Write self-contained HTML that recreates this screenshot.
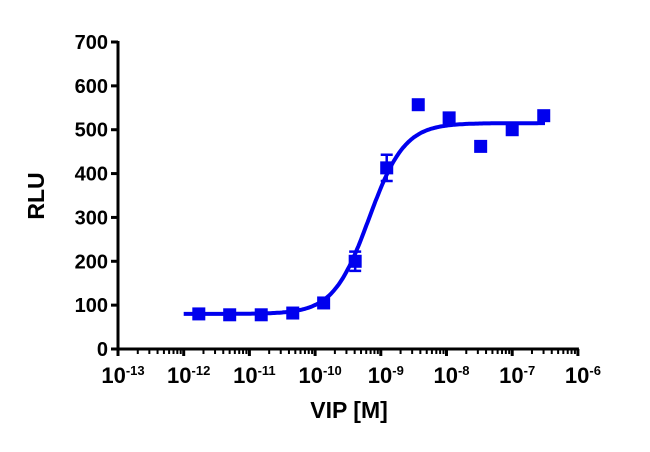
<!DOCTYPE html>
<html><head><meta charset="utf-8"><style>
body{margin:0;background:#fff;}
svg text{font-family:"Liberation Sans",Arial,sans-serif;font-weight:bold;fill:#000;}
</style></head><body>
<svg id="c" width="650" height="447" viewBox="0 0 650 447"></svg>
<script>
const logDoses=[-11.77,-11.30,-10.82,-10.34,-9.87,-9.39,-8.91,-8.43,-7.96,-7.48,-7.00,-6.52];
const rluValues=[80,78,78,82,105,200,413,557,527,462,500,532];
const rluErrors=[0,0,0,0,0,22,30,0,0,0,0,0];
const yTicks=[0,100,200,300,400,500,600,700];
const xTickExps=[-13,-12,-11,-10,-9,-8,-7,-6];
const fitBottom=80, fitTop=515, fitLogEC50=-9.18, fitHill=1.6;

const NS="http://www.w3.org/2000/svg";
const svg=document.getElementById('c');
const X0=118, DEC=65.7, Y0=349, YS=307/700;
const xs=l=>X0+(l+13)*DEC, ys=v=>Y0-v*YS;
function mk(t,a,p){const e=document.createElementNS(NS,t);for(const k in a)e.setAttribute(k,a[k]);(p||svg).appendChild(e);return e;}

let g=mk('g',{});


mk('line',{x1:X0,y1:ys(0)+1.5,x2:X0,y2:ys(700)-1,stroke:'#000','stroke-width':3},g);
yTicks.forEach(v=>{
 mk('line',{x1:X0-7,y1:ys(v),x2:X0,y2:ys(v),stroke:'#000','stroke-width':3},g);
 const t=mk('text',{x:X0-10,y:ys(v)+7,'text-anchor':'end','font-size':20},g);
 t.textContent=v;
 
 
});
let gx=mk('g',{});


mk('line',{x1:X0-1,y1:Y0,x2:xs(-6)+1,y2:Y0,stroke:'#000','stroke-width':3},gx);
xTickExps.forEach((e,i)=>{
 const x=xs(e);
 mk('line',{x1:x,y1:Y0,x2:x,y2:Y0+7,stroke:'#000','stroke-width':3},gx);
 if(i<xTickExps.length-1){for(let m=2;m<10;m++){const xm=xs(e+Math.log10(m));mk('line',{x1:xm,y1:Y0,x2:xm,y2:Y0+5,stroke:'#000','stroke-width':2},gx);}}
 const t=mk('text',{x:x+5,y:Y0+34,'text-anchor':'middle','font-size':22},gx);
 
 
 t.innerHTML='10<tspan dy="-8" font-size="13">'+e+'</tspan>';
});
let yt=mk('text',{x:0,y:0,'font-size':23,'text-anchor':'middle',transform:'translate(44,196) rotate(-90)'});
yt.textContent='RLU';


let xt=mk('text',{x:349,y:418,'font-size':23,'text-anchor':'middle'});
xt.textContent='VIP [M]';



let d='';
for(let l=-12.0;l<=-6.5;l+=0.02){const v=fitBottom+(fitTop-fitBottom)/(1+Math.pow(10,(fitLogEC50-l)*fitHill));d+=(d?'L':'M')+xs(l).toFixed(1)+','+ys(v).toFixed(1);}
const cv=mk('path',{d:d,fill:'none',stroke:'#0000ee','stroke-width':4});



logDoses.forEach((l,i)=>{
 const x=xs(l),y=ys(rluValues[i]);
 if(rluErrors[i]>0){
  const e=rluErrors[i];
  const eb=mk('path',{d:`M${x},${ys(rluValues[i]+e)}V${ys(rluValues[i]-e)}M${x-6},${ys(rluValues[i]+e)}H${x+6}M${x-6},${ys(rluValues[i]-e)}H${x+6}`,stroke:'#0000ee','stroke-width':2.5,fill:'none'});
  
  
 }
 const r=mk('rect',{x:x-6.5,y:y-6.5,width:13,height:13,fill:'#0000ee'});
 
 
});
</script>
</body></html>
